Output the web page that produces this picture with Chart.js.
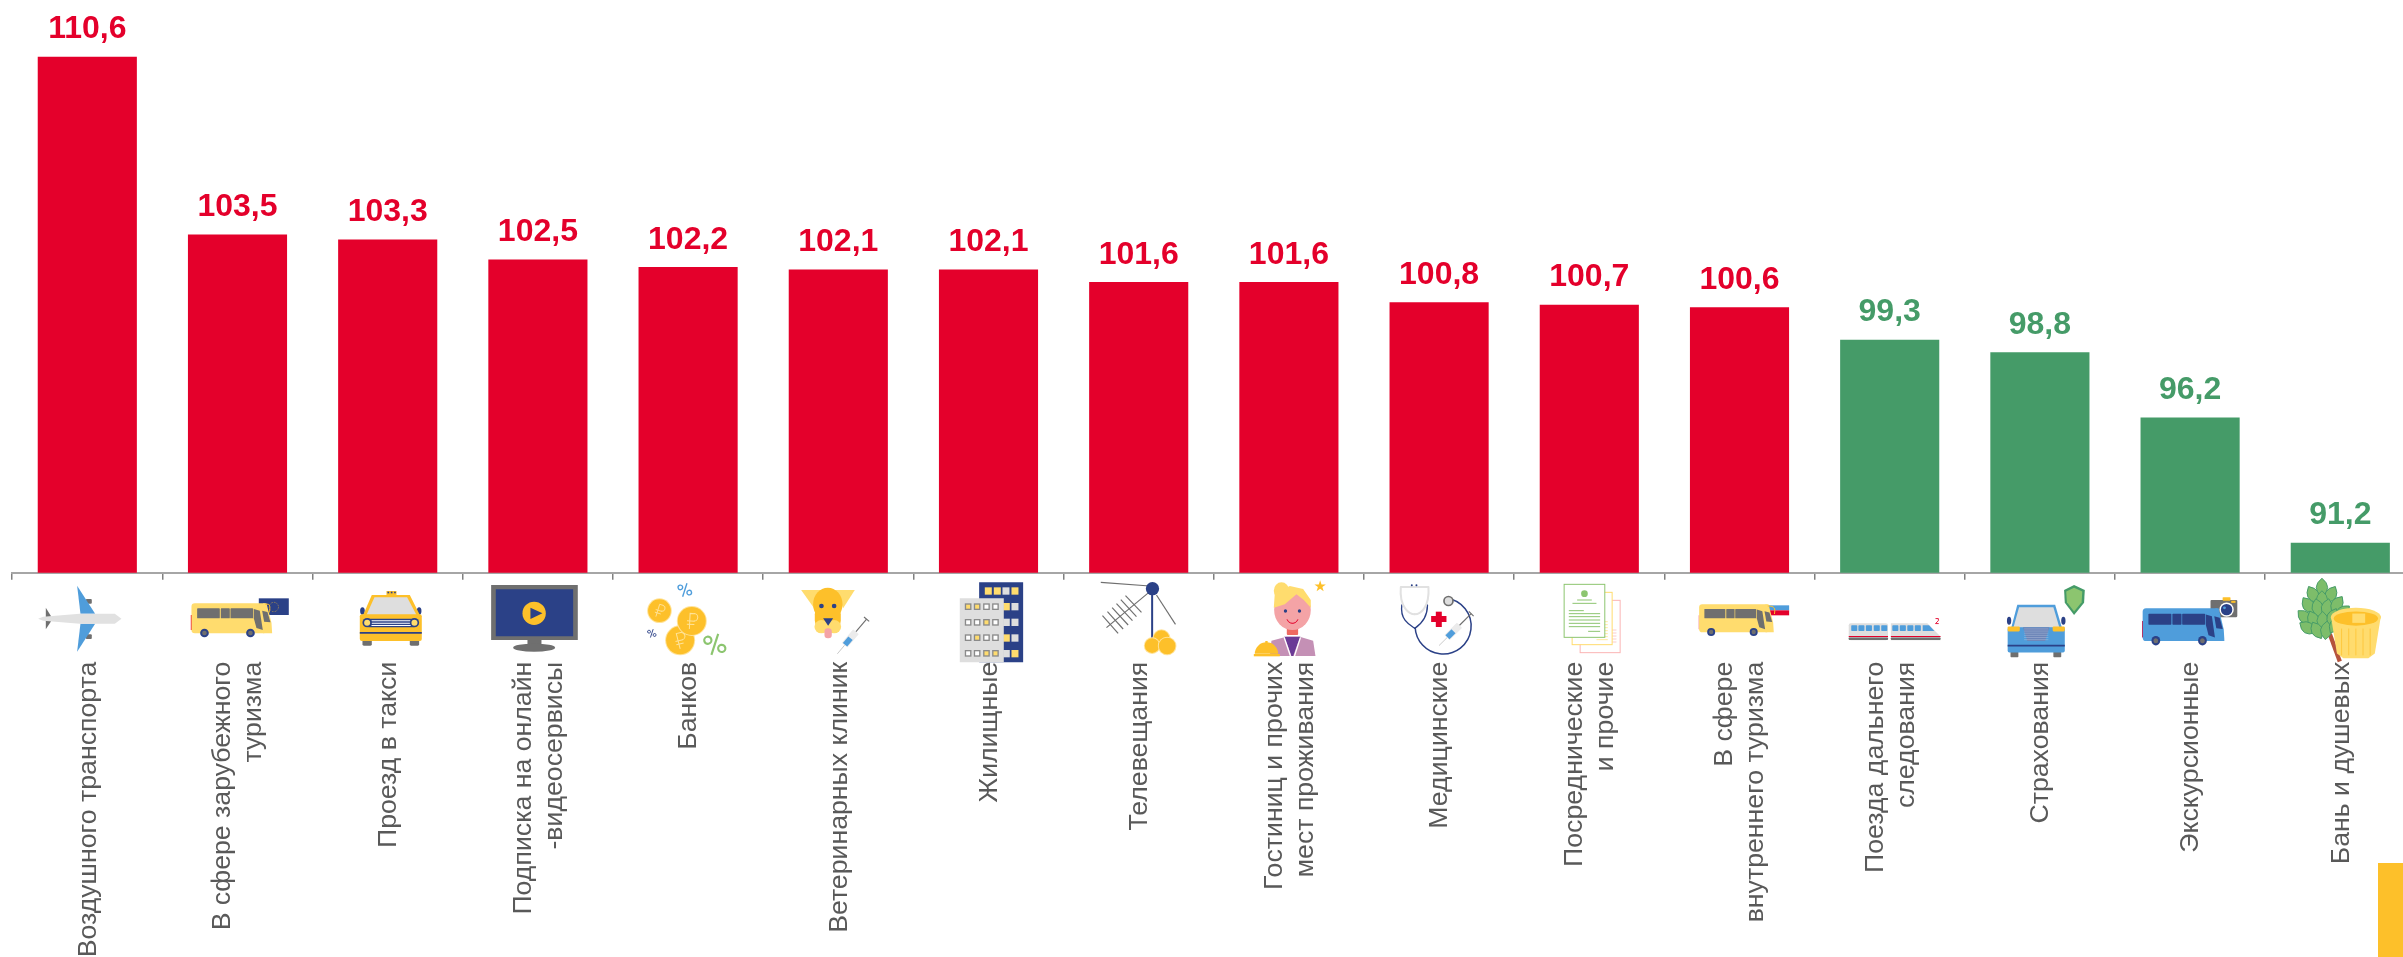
<!DOCTYPE html>
<html lang="ru"><head><meta charset="utf-8"><title>Индексы цен на услуги</title>
<script src="https://cdn.jsdelivr.net/npm/chart.js@4/dist/chart.umd.min.js"></script>
<style>html,body{margin:0;padding:0;width:2403px;height:957px;overflow:hidden;background:#fff}
canvas{display:block;position:absolute;left:0;top:0}
#corner{position:absolute;left:2378px;top:863px;width:25px;height:94px;background:#fdc02a}</style></head>
<body><canvas id="c" width="2420" height="957"></canvas><div id="corner"></div>
<script>
const categories=[["Воздушного транспорта"],["В сфере зарубежного","туризма"],["Проезд в такси"],["Подписка на онлайн","-видеосервисы"],["Банков"],["Ветеринарных клиник"],["Жилищные"],["Телевещания"],["Гостиниц и прочих","мест проживания"],["Медицинские"],["Посреднические","и прочие"],["В сфере","внутреннего туризма"],["Поезда дальнего","следования"],["Страхования"],["Экскурсионные"],["Бань и душевых"]];
const values=[110.6,103.5,103.3,102.5,102.2,102.1,102.1,101.6,101.6,100.8,100.7,100.6,99.3,98.8,96.2,91.2];
const RED='#e4002b',GREEN='#459b68',Y='#fdc02a',LY='#ffdc6e',NAVY='#2b4187',GR='#6f6f6f',LG='#dedede',BL='#4f9ddb',LGRN='#8cc56f';
let ctx;
function R(x,y,w,h,c,r=0){ctx.fillStyle=c;ctx.beginPath();ctx.roundRect(x,y,w,h,r);ctx.fill();}
function E(x,y,rx,ry,c){ctx.fillStyle=c;ctx.beginPath();ctx.ellipse(x,y,rx,ry,0,0,Math.PI*2);ctx.fill();}
function P(p,c){ctx.fillStyle=c;ctx.beginPath();for(let i=0;i<p.length;i+=2)i?ctx.lineTo(p[i],p[i+1]):ctx.moveTo(p[i],p[i+1]);ctx.closePath();ctx.fill();}
function L(p,c,w){ctx.strokeStyle=c;ctx.lineWidth=w;ctx.beginPath();for(let i=0;i<p.length;i+=2)i?ctx.lineTo(p[i],p[i+1]):ctx.moveTo(p[i],p[i+1]);ctx.stroke();}
function Q(p,c,w){ctx.strokeStyle=c;ctx.lineWidth=w;ctx.lineCap='round';ctx.beginPath();ctx.moveTo(p[0],p[1]);ctx.bezierCurveTo(p[2],p[3],p[4],p[5],p[6],p[7]);ctx.stroke();ctx.lineCap='butt';}
function A(x,y,r,a,b,c,w){ctx.strokeStyle=c;ctx.lineWidth=w;ctx.beginPath();ctx.arc(x,y,r,a,b);ctx.stroke();}
function S(x,y,w,h,c,lw){ctx.fillStyle='#fff';ctx.fillRect(x,y,w,h);ctx.strokeStyle=c;ctx.lineWidth=lw;ctx.strokeRect(x,y,w,h);}
function coin(x,y,r,rub){E(x,y,r,r,'#ffe39a');E(x,y,r-3,r-3,Y);if(rub){const k=r/44,c='#ffe39a';ctx.save();ctx.translate(x,y);ctx.rotate(rub);ctx.scale(k,k);L([-6,24,-6,-22,8,-22],c,3);A(6,-11,11,-Math.PI/2,Math.PI/2,c,3);L([-14,0,8,0],c,3);L([-14,10,8,10],c,3);ctx.restore();}}
function pct(x,y,s,c,a){ctx.save();ctx.translate(x,y);ctx.rotate(a);ctx.scale(s,s);L([9,-16,-9,16],c,3.6);A(-10,-9,6,0,7,c,3.6);A(10,9,6,0,7,c,3.6);ctx.restore();}
function syringe(x,y,a,s){ctx.save();ctx.translate(x,y);ctx.rotate(a);ctx.scale(s,s);L([-90,0,-50,0],'#b8b8b8',2.5);R(-50,-13,62,26,'#ebebeb',2);R(-48,-10,30,20,BL);L([12,0,70,0],GR,4);L([70,-12,70,12],GR,4);ctx.restore();}
function leaf(x,y,a){ctx.save();ctx.translate(x,y);ctx.rotate(a);ctx.fillStyle='#7dbd6a';ctx.strokeStyle=GREEN;ctx.lineWidth=2.5;ctx.beginPath();ctx.moveTo(0,-26);ctx.quadraticCurveTo(32,0,0,26);ctx.quadraticCurveTo(-32,0,0,-26);ctx.fill();ctx.stroke();ctx.restore();}
function bus(x,y,w,h,body,win,screen,flip){ctx.save();ctx.translate(x,y);ctx.scale(w/240,h/90);
 R(-2,35,4,45,flip,0);R(0,0,226,90,body,10);P([215,0,225,0,240,58,242,90,215,90],body);
 R(17,15,68,30,win,2);R(88,15,27,30,win,2);R(117,15,68,30,win,2);
 P([187,17,205,22,214,80,195,74,187,45],screen);P([212,22,228,26,237,57,218,55],win);
 for(const cx of [39,177]){E(cx,89,13,13,NAVY);E(cx,89,7,7,GR);}ctx.restore();}
const icons=[
()=>{R(198,72,18,14,GR,3);R(198,178,18,14,GR,3);P([172,32,226,116,182,116],BL);P([172,230,226,146,182,146],BL);P([78,98,93,122,93,140,78,163],GR);P([55,131,70,125,180,116,285,116,305,131,285,146,180,146,70,137],'#e1e1e1');},
()=>{R(717,70,90,50,NAVY);ctx.setLineDash([2,3]);A(762,96,14,0,7,Y,2);ctx.setLineDash([]);bus(515,85,240,90,LY,GR,GR,RED);Q([738,88,752,84,752,96,748,112],Y,3);},
()=>{R(1028,190,28,22,GR,4);R(1170,190,28,22,GR,4);E(1028,108,7,11,NAVY);E(1198,108,7,11,NAVY);P([1030,120,1056,60,1170,60,1200,120],Y);P([1040,120,1064,67,1162,67,1190,120],LG);R(1020,118,186,80,Y,6);R(1035,131,158,26,NAVY,13);R(1055,136,118,3,'#fff');R(1055,143,118,3,'#fff');R(1055,150,118,3,'#fff');E(1042,143,14,14,NAVY);E(1042,143,9,9,LY);E(1184,143,14,14,NAVY);E(1184,143,9,9,LY);R(1020,171,186,5,NAVY);R(1100,48,30,14,Y);for(const q of [1103,1113,1123])R(q,50,5,5,NAVY);},
()=>{R(34,30,260,165,GR);R(48,43,232,141,NAVY);R(143,195,42,15,GR);E(163,218,63,12,GR);E(163,115,35,35,Y);P([152,98,188,115,152,132],NAVY);},
()=>{coin(539,107,37,.3);coin(601,196,45,-.25);coin(636,138,45,.05);pct(615,45,1.15,BL,-.2);pct(516,175,.72,NAVY,-.2);pct(705,208,1.8,LGRN,-.2);},
()=>{P([964,45,1025,45,1003,100],LY);P([1125,45,1065,45,1090,100],LY);E(1044,88,44,50,Y);R(1005,90,78,75,Y,28);E(1025,155,21,20,LY);E(1063,155,21,20,LY);R(1034,160,22,30,'#f4a3a6',10);E(1025,93,7,7,NAVY);E(1063,93,7,7,NAVY);P([1030,130,1060,130,1045,152],NAVY);syringe(1122,178,-.87,.85);},
()=>{R(88,22,132,240,NAVY);const b=['#ffdc6e','#ffdc6e',LG,'#ffdc6e'];[105,132,158,185].forEach((x,i)=>R(x,37,21,22,b[i]));[[84,LY,LG],[131,LG,LG],[178,LY,LG],[225,LG,LY]].forEach(r=>{R(160,r[0],20,22,r[1]);R(185,r[0],21,22,r[2]);});R(30,70,132,192,LG);const m=[[LY,LY,'#fff','#fff'],['#fff','#fff',LY,'#fff'],['#fff',LY,'#fff','#fff'],['#fff','#fff',LY,LY]];[85,132,178,225].forEach((y,j)=>[45,72,100,127].forEach((x,i)=>{R(x,y,20,20,'#8a8a8a');R(x+4,y+4,12,12,m[j][i]);}));},
()=>{L([453,22,600,33],GR,3.5);L([470,158,600,50],GR,3.5);[[458,122,505,175],[473,110,520,162],[487,98,535,150],[500,86,548,137],[513,74,560,125],[527,62,575,112]].forEach(p=>L(p,GR,3.5));L([620,60,677,148],GR,3.5);L([607,40,607,190],NAVY,6);E(608,41,20,20,NAVY);coin(635,190,27);coin(607,212,25);coin(652,213,28);},
()=>{E(995,47,23,25,LY);R(1011,150,34,30,'#ee6a62',3);E(1028,105,55,60,'#f4a3a6');P([972,98,975,55,1020,33,1060,42,1083,75,1083,98,1062,75,1040,58,1005,88],LY);E(1007,108,5,5,NAVY);E(1049,108,5,5,NAVY);A(1028,128,17,.3,2.84,'#e4002b',3);P([960,243,965,197,1010,185,1050,185,1090,197,1097,243],'#c490b5');P([1003,185,1052,185,1040,215,1030,243,1025,243,1015,215],'#6b3b96');L([1003,187,1022,243],'#fff',4);L([1052,187,1034,243],'#fff',4);
 ctx.fillStyle=Y;ctx.beginPath();for(let i=0;i<10;i++){const r=i%2?7:18,a=-Math.PI/2+i*Math.PI/5;ctx.lineTo(1111+r*Math.cos(a),34+r*Math.sin(a));}ctx.closePath();ctx.fill();
 ctx.fillStyle=Y;ctx.beginPath();ctx.ellipse(950,236,35,34,0,Math.PI,0);ctx.fill();R(912,237,78,7,Y);R(946,198,8,6,Y,2);},
()=>{Q([36,90,30,135,60,150,75,160],NAVY,4);Q([113,90,113,130,90,150,75,160],NAVY,4);L([32,36,116,36],'#e1e1e1',6);Q([33,36,28,100,60,118,75,118],'#e1e1e1',6);Q([116,36,120,100,90,118,75,118],'#e1e1e1',6);E(66,31,3,3,NAVY);E(80,31,3,3,NAVY);A(160,153,84,-1.45,3.1,NAVY,4.5);E(176,78,16,16,GR);E(176,78,11,11,LG);R(124,123,46,18,RED);R(138,110,18,46,RED);syringe(202,158,-.78,.85);},
()=>{S(571,76,120,157,'#fbb4b4',3);for(let y=165;y<205;y+=9)L([642,y,680,y],'#fbb4b4',2);S(547,52,120,157,LY,3);for(let y=140;y<195;y+=9)L([620,y,654,y],LY,2);S(523,28,122,159,LGRN,3);E(584,56,10,10,LGRN);L([562,75,606,75],LGRN,3);L([548,85,620,85],LGRN,3);L([537,107,582,107],LGRN,3);[116,125,135,145,155].forEach(y=>L([537,y,631,y],LGRN,3));L([595,169,631,169],LGRN,3);},
()=>{R(1114,76,84,46,'#fff');R(1114,91,84,15,BL);R(1114,106,84,15,RED);bus(928,88,222,84,LY,GR,GR,'#f4a3a6');Q([1135,93,1155,93,1157,100,1154,116],Y,3);},
()=>{R(25,135,110,48,LG,6);P([143,135,245,135,282,172,282,183,143,183],LG);[32,52,73,95,116].forEach(x=>R(x,141,17,16,BL,2));[147,168,189,210].forEach(x=>R(x,141,17,16,BL,2));P([232,141,250,141,265,157,232,157],BL);L([25,172,135,172],RED,3);L([143,172,282,172],RED,3);R(25,175,110,7,GR,2);R(143,175,139,7,GR,2);L([268,122,276,122,276,128,268,136,277,136],RED,2.5);},
()=>{R(478,212,22,18,GR,2);R(598,212,22,18,GR,2);E(474,128,6,11,NAVY);E(626,128,6,11,NAVY);P([480,148,497,83,603,83,622,148],BL);P([486,148,502,90,598,90,615,148],LG);R(470,146,160,71,BL,5);R(470,144,34,14,Y,3);R(596,144,34,14,Y,3);P([513,146,587,146,575,185,525,185],'#6b84b8');for(let y=151;y<183;y+=6)L([516,y,584,y],'#a9b8d6',1.5);R(470,195,160,5,NAVY);P([656,28,686,42,684,78,656,112,630,78,628,42],GREEN);P([656,36,679,46,677,76,656,102,636,76,634,46],LGRN);},
()=>{R(1038,70,75,48,GR,3);R(1072,62,22,10,Y,2);R(1096,72,12,6,Y);bus(848,93,227,92,BL,NAVY,NAVY,RED);E(1083,97,20,20,'#fff');E(1083,97,16,16,NAVY);E(1077,92,4,4,BL);},
()=>{L([1372,165,1400,242],'#b5533c',12);[[1350,35,0],[1325,55,-.5],[1375,55,.5],[1350,70,0],[1312,85,-.6],[1338,92,-.2],[1364,92,.2],[1392,82,.6],[1302,118,-.8],[1326,125,-.4],[1352,128,0],[1380,118,.4],[1408,105,.8],[1310,148,-1],[1336,155,-.5],[1362,155,.1],[1388,140,.6],[1415,125,1]].forEach(a=>leaf(a[0],a[1],a[2]));P([1375,115,1515,115,1498,220,1480,233,1410,233,1392,220],LY);E(1445,118,70,26,LY);E(1445,122,62,20,Y);R(1435,108,36,26,LY);[1405,1425,1445,1465,1485].forEach(x=>L([x,150,x,225],Y,2));},
];
const cropX=[20,20,20,480,480,480,950,950,950,1390,1390,1390,1840,1840,1840,1840];
const cropK=[3,3,3,3,3,3,3,3,3,3,3,3,2.8,2.8,2.8,2.8];
const refCentre=categories.map((_,i)=>87.5+150.2*i);
const LABEL_LINE=31;
const iconsPlugin={id:'icons',afterDraw(chart){ctx=chart.ctx;const xs=chart.scales.x;icons.forEach((f,i)=>{ctx.save();ctx.translate(xs.getPixelForTick(i)+cropX[i]-refCentre[i],chart.chartArea.bottom+2.3);ctx.scale(1/cropK[i],1/cropK[i]);f();ctx.restore();});}};
const valuesPlugin={id:'vals',afterDatasetsDraw(chart){const c=chart.ctx;c.save();c.font='bold 32px "Liberation Sans"';c.textAlign='center';c.textBaseline='alphabetic';chart.getDatasetMeta(0).data.forEach((b,i)=>{c.fillStyle=values[i]>100?RED:GREEN;c.fillText(values[i].toFixed(1).replace('.',','),b.x,b.y-18.3);});c.restore();}};
const centreLines={id:'centreLines',beforeDraw(chart){const xs=chart.scales.x;xs.getLabelItems(chart.chartArea).forEach(it=>{if(!it.options.shifted){it.options.shifted=true;it.options.translation[0]+=1-(it.label.length-1)*LABEL_LINE/2;}});}};
new Chart(document.getElementById('c'),{type:'bar',plugins:[centreLines,iconsPlugin,valuesPlugin],
data:{labels:categories,datasets:[{data:values,backgroundColor:values.map(v=>v>100?RED:GREEN),barPercentage:.66,categoryPercentage:1}]},
options:{responsive:false,animation:false,layout:{padding:{left:12.2,right:4.6,top:21.6,bottom:0}},
plugins:{legend:{display:false},tooltip:{enabled:false},title:{display:false}},
scales:{y:{display:false,min:90,max:112},
x:{afterFit(s){s.height=384.3;s.paddingLeft=0;s.paddingRight=0;},grid:{drawOnChartArea:false,drawTicks:true,tickLength:7,color:'#808080',lineWidth:1.5,offset:true},border:{color:'#a6a6a6',width:2},
ticks:{autoSkip:false,maxRotation:90,minRotation:90,padding:82,color:'#595959',font:{family:'"Liberation Sans"',size:26.7,lineHeight:LABEL_LINE/26.7}}}}}});
</script></body></html>
